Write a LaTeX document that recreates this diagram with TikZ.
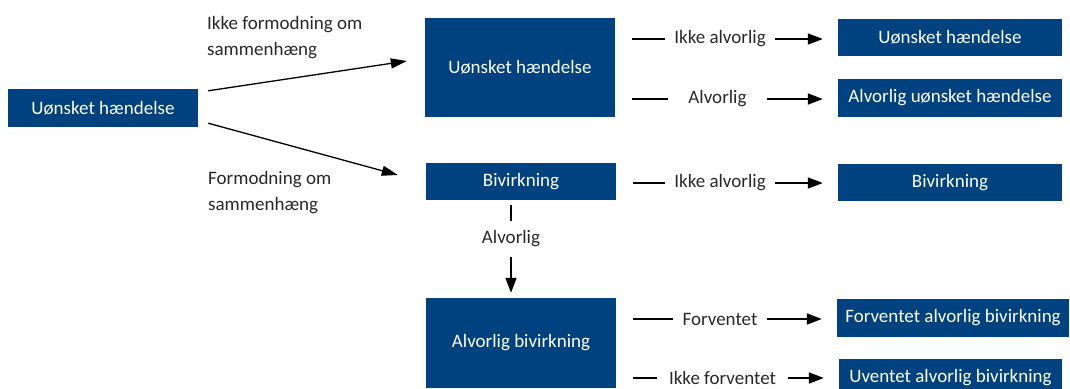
\documentclass[tikz,border=0pt]{standalone}
\usepackage{fontspec}
\setmainfont{Carlito}
\usetikzlibrary{arrows.meta,positioning}
\definecolor{boxblue}{RGB}{0,65,128}
\definecolor{lblgray}{RGB}{40,40,40}
\tikzset{
  txt/.style={font=\fontsize{19}{26}\selectfont},
  box/.style={txt, fill=boxblue, text=white, inner sep=0pt},
  lbl/.style={txt, text=lblgray, inner xsep=9pt, inner ysep=0pt},
  link/.style={line width=1.8pt},
  arr/.style={link, -{Triangle[length=15pt,width=11pt]}},
  diag/.style={line width=1.3pt, -{Triangle[length=16pt,width=10pt]}},
}
\begin{document}
\begin{tikzpicture}[x=1pt,y=-1pt]
\useasboundingbox (0,0) rectangle (1070,388);
% boxes
\node[box, minimum width=190pt, minimum height=38pt] (start) at (103,108) {Uønsket hændelse};
\node[box, minimum width=190pt, minimum height=99pt] (haend) at (520,67.5) {Uønsket hændelse};
\node[box, minimum width=190pt, minimum height=37pt] (biv) at (521,181.5) {Bivirkning};
\node[box, minimum width=190pt, minimum height=90pt] (alvbiv) at (521,343) {Alvorlig bivirkning};
\node[box, minimum width=224pt, minimum height=37pt] (r1) at (950,37.5) {Uønsket hændelse};
\node[box, minimum width=224pt, minimum height=38pt] (r2) at (950,98) {Alvorlig uønsket hændelse};
\node[box, minimum width=224pt, minimum height=37pt] (r3) at (950,182.5) {Bivirkning};
\node[box, minimum width=232pt, minimum height=38pt] (r4) at (953,318) {Forventet alvorlig bivirkning};
\node[box, minimum width=223pt, minimum height=38pt] (r5) at (950.5,378) {Uventet alvorlig bivirkning};
% diagonal labels (base = last line)
\node[txt, text=lblgray, align=left, anchor=base west, inner sep=0pt] (lnot) at (207,55) {Ikke formodning om\\sammenhæng};
\node[txt, text=lblgray, align=left, anchor=base west, inner sep=0pt] (lyes) at (208,210) {Formodning om\\sammenhæng};
\draw[diag] ([xshift=10pt,yshift=-2pt]start.north east) -- ([xshift=-18pt,yshift=6.5pt]haend.west);
\draw[diag] ([xshift=10pt,yshift=4pt]start.south east) -- ([xshift=-28pt,yshift=6.5pt]biv.west);
% row labels
\node[lbl] (l1) at (720,39) {Ikke alvorlig};
\node[lbl, inner xsep=20pt] (l2) at (717.5,99) {Alvorlig};
\node[lbl] (l3) at (720,183) {Ikke alvorlig};
\node[lbl] (l4) at (720,319) {Forventet};
\node[lbl, inner xsep=12pt] (l5) at (722.5,378) {Ikke forventet};
\foreach \src/\lab/\dst in {haend/l1/r1, haend/l2/r2, biv/l3/r3, alvbiv/l4/r4, alvbiv/l5/r5}{
  \draw[link, shorten <=17pt] (\src.east |- \lab) -- (\lab.west);
  \draw[arr, shorten >=15pt] (\lab.east) -- (\dst.west |- \lab);
}
% vertical connector
\node[lbl, inner ysep=10pt, inner xsep=0pt] (lv) at (511,239) {Alvorlig};
\draw[link, shorten <=5pt] (lv.north |- biv.south) -- (lv.north);
\draw[arr, shorten >=5pt] (lv.south) -- (lv.south |- alvbiv.north);
\end{tikzpicture}
\end{document}
